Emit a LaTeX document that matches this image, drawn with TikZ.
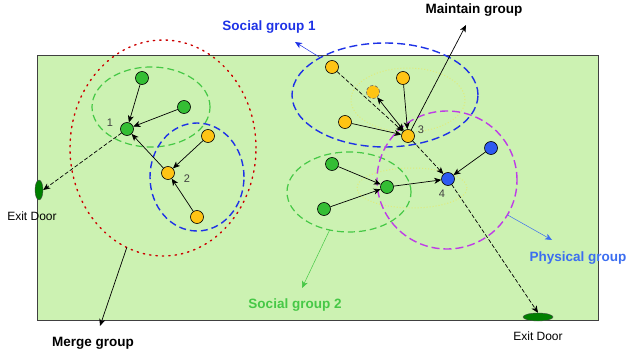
\documentclass[tikz,border=0pt]{standalone}
\usepackage{fontspec}
\setmainfont{Liberation Sans}
\usetikzlibrary{arrows,arrows.meta,shapes.geometric}
\definecolor{field}{RGB}{204,242,178}
\definecolor{agentgreen}{RGB}{52,190,52}
\definecolor{agentyellow}{RGB}{255,196,20}
\definecolor{agentblue}{RGB}{45,90,240}
\definecolor{sgblue}{RGB}{30,50,230}
\definecolor{phblue}{RGB}{60,110,240}
\definecolor{sggreen}{RGB}{70,200,70}
\definecolor{mpurple}{RGB}{190,60,230}
\definecolor{ghost}{RGB}{225,235,120}
\tikzset{
  agent/.style={circle,draw=black,line width=0.6pt,minimum size=13pt,inner sep=0pt},
  door/.style={ellipse,draw=black!70,thin,fill=green!50!black,inner sep=0pt},
  grp/.style={ellipse,outer sep=0pt,inner sep=0pt},
  tag/.style={font=\bfseries\fontsize{13.5}{15}\selectfont},
  num/.style={font=\fontsize{11}{13}\selectfont,text=black!75},
  head/.tip={Stealth[length=7pt,width=6pt,inset=2pt]},
  move/.style={-head,line width=0.7pt},
}
\begin{document}
\begin{tikzpicture}[x=1pt,y=-1pt,semithick]
\useasboundingbox (0,0) rectangle (629,358);
\draw[fill=field,draw=black!75,line width=0.8pt] (37,55) rectangle (598,320);
% groups
\node[grp,draw=sggreen,dash pattern=on 7pt off 4pt,line width=1.2pt,minimum width=118pt,minimum height=80pt] (sgA) at (151,107) {};
\node[grp,draw=sgblue,dash pattern=on 7pt off 4pt,line width=1.4pt,minimum width=94pt,minimum height=108pt] (sgB) at (197,177) {};
\node[grp,draw=red!80!black,dash pattern=on 1.4pt off 5pt,line width=1.4pt,line cap=round,minimum width=186pt,minimum height=216pt] (merge) at (163,148) {};
\node[grp,draw=ghost,dotted,line width=1pt,minimum width=114pt,minimum height=64pt] (ghostA) at (408,100) {};
\node[grp,draw=ghost,dotted,line width=1pt,minimum width=110pt,minimum height=40pt] (ghostB) at (412,188) {};
\node[grp,draw=sgblue,dash pattern=on 8pt off 4pt,line width=1.4pt,minimum width=186pt,minimum height=104pt] (sg1) at (385,95) {};
\node[grp,draw=sggreen,dash pattern=on 7pt off 4pt,line width=1.2pt,minimum width=124pt,minimum height=80pt] (sg2) at (349,192) {};
\node[grp,draw=mpurple,dash pattern=on 8pt off 4pt,line width=1.4pt,minimum width=140pt,minimum height=138pt] (phys) at (447,180) {};
% doors
\node[door,minimum width=8pt,minimum height=20pt] (exitL) at (39,190) {};
\node[door,minimum width=30pt,minimum height=8pt] (exitB) at (538,317) {};
\node[font=\fontsize{12}{14}\selectfont] at (32,216) {Exit Door};
\node[font=\fontsize{12}{14}\selectfont] at (538,336) {Exit Door};
% agents
\node[agent,fill=agentgreen] (a1) at (142,78) {};
\node[agent,fill=agentgreen] (a2) at (184,107) {};
\node[agent,fill=agentgreen] (n1) at (127,129) {};
\node[agent,fill=agentyellow] (b1) at (208,136) {};
\node[agent,fill=agentyellow] (n2) at (168,173) {};
\node[agent,fill=agentyellow] (b2) at (197,217) {};
\node[agent,fill=agentyellow] (c1) at (332,67) {};
\node[agent,fill=agentyellow,draw=black!60,densely dashed] (c2) at (373,92) {};
\node[agent,fill=agentyellow] (c3) at (403,78) {};
\node[agent,fill=agentyellow] (c4) at (345,122) {};
\node[agent,fill=agentyellow] (n3) at (408,136) {};
\node[agent,fill=agentblue] (d1) at (491,148) {};
\node[agent,fill=agentblue] (n4) at (448,179) {};
\node[agent,fill=agentgreen] (e1) at (332,164) {};
\node[agent,fill=agentgreen] (e2) at (387,187) {};
\node[agent,fill=agentgreen] (e3) at (324,209) {};
\node[num] at (110,123) {1};
\node[num] at (187,179) {2};
\node[num] at (421,130) {3};
\node[num] at (442,194) {4};
% moves
\draw[move] (a1) -- (n1);
\draw[move] (a2) -- (n1);
\draw[move] (n2) -- (n1);
\draw[move] (b1) -- (n2);
\draw[move] (b2) -- (n2);
\draw[move,dash pattern=on 4pt off 2pt] (n1) -- (exitL.east);
\draw[move,dash pattern=on 4pt off 2pt] (c1) -- (n3);
\draw[head-head,line width=0.7pt] (c2) -- (n3);
\draw[move] (c3) -- (n3);
\draw[move] (c4) -- (n3);
\draw[move,dash pattern=on 4pt off 2pt] (n3) -- (n4);
\draw[move] (d1) -- (n4);
\draw[move] (e1) -- (e2);
\draw[move] (e3) -- (e2);
\draw[move] (e2) -- (n4);
\draw[move,dash pattern=on 4pt off 2pt] (n4) -- (exitB.north);
% labels
\node[tag] (lmaintain) at (474,10) {Maintain group};
\node[tag] (lmerge) at (93,343) {Merge group};
\node[tag,text=sgblue] (lsg1) at (269,27) {Social group 1};
\node[tag,text=sggreen] (lsg2) at (295,305) {Social group 2};
\node[tag,text=phblue] (lphys) at (578,258) {Physical group};
\coordinate (tmaintain) at (466,25);
\coordinate (tmerge) at (100,326);
\coordinate (tsg1) at (295,42);
\coordinate (tsg2) at (302,288);
\coordinate (tphys) at (552,240);
\draw[move] (n3) -- (tmaintain);
\draw[move] (merge.250) -- (tmerge);
\draw[move,sgblue,line width=0.5pt] (sg1.150) -- (tsg1);
\draw[move,sggreen,line width=0.5pt] (sg2.243) -- (tsg2);
\draw[move,phblue,line width=0.5pt] (phys.330) -- (tphys);
\end{tikzpicture}
\end{document}
